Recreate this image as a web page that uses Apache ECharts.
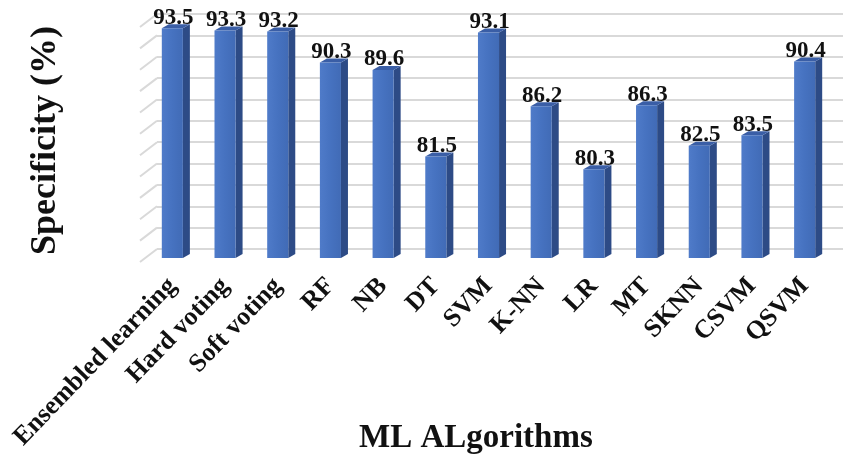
<!DOCTYPE html>
<html>
<head>
<meta charset="utf-8">
<title>Specificity of ML algorithms</title>
<script src="https://cdn.jsdelivr.net/npm/echarts@6/dist/echarts.min.js"></script>
<style>
  html, body { margin: 0; padding: 0; background: #fff; }
  #chart { width: 850px; height: 463px; }
</style>
</head>
<body>
<div id="chart"></div>
<script>
const algorithms = ['Ensembled learning', 'Hard voting', 'Soft voting', 'RF', 'NB', 'DT', 'SVM', 'K-NN', 'LR', 'MT', 'SKNN', 'CSVM', 'QSVM']
const specificity = [93.5, 93.3, 93.2, 90.3, 89.6, 81.5, 93.1, 86.2, 80.3, 86.3, 82.5, 83.5, 90.4]
const yTicks = [72, 74, 76, 78, 80, 82, 84, 86, 88, 90, 92, 94]

const Y_MIN = 72
const Y_MAX = 94
const SERIF = "'Liberation Serif', 'Times New Roman', serif"

const chart = echarts.init(document.getElementById('chart'))

// 3d column: front face, darker side face, top face, value on top
const renderBar = (params, api) => {
  const top = api.coord([api.value(0), api.value(1)])
  const base = api.coord([api.value(0), Y_MIN])
  const w = api.size([1, 0])[0] * 0.4
  const d = 7 // depth to the right
  const h = 4 // depth upwards
  const x0 = top[0] - w / 2
  const x1 = top[0] + w / 2
  return {
    type: 'group',
    children: [
      {
        type: 'polygon',
        shape: { points: [[x1, top[1]], [x1 + d, top[1] - h], [x1 + d, base[1] - h], [x1, base[1]]] },
        style: { fill: '#2d4b86' }
      },
      {
        type: 'polygon',
        shape: { points: [[x0, top[1]], [x1, top[1]], [x1 + d, top[1] - h], [x0 + d, top[1] - h]] },
        style: { fill: '#3a5ea6' }
      },
      {
        type: 'rect',
        shape: { x: x0, y: top[1], width: w, height: base[1] - top[1] },
        style: {
          fill: new echarts.graphic.LinearGradient(0, 0, 1, 0, [
            { offset: 0, color: '#4f7bc9' },
            { offset: 0.5, color: '#4672c0' },
            { offset: 1, color: '#416bb6' }
          ])
        }
      },
      {
        type: 'text',
        x: top[0] + 1,
        y: top[1] + 1,
        style: {
          text: String(api.value(1)),
          font: 'bold 23px ' + SERIF,
          fill: '#111',
          align: 'center',
          verticalAlign: 'bottom'
        }
      }
    ]
  }
}

// short slanted lines on the left side wall
const renderWallTick = (params, api) => {
  const p = api.coord([0, api.value(0)])
  return {
    type: 'line',
    shape: { x1: p[0], y1: p[1], x2: p[0] - 17, y2: p[1] + 13 },
    style: { stroke: '#d9d9d9', lineWidth: 2 }
  }
}

chart.setOption({
  animation: false,
  title: {
    text: 'ML ALgorithms',
    left: 354,
    top: 417,
    textStyle: { fontFamily: SERIF, fontWeight: 'bold', fontSize: 33, color: '#111' }
  },
  grid: [
    // front plane of the bars
    { left: 146, right: 19, top: 23, bottom: 205 },
    // back wall with the gridlines
    { left: 157, right: 7, top: 14, bottom: 214 }
  ],
  xAxis: [
    {
      gridIndex: 0,
      type: 'category',
      data: algorithms,
      axisLine: { show: false },
      axisTick: { show: false },
      axisLabel: {
        rotate: 46,
        margin: 24,
        interval: 0,
        fontFamily: SERIF,
        fontWeight: 'bold',
        fontSize: 26,
        color: '#111'
      }
    },
    { gridIndex: 1, type: 'value', min: 0, max: 1, show: false }
  ],
  yAxis: [
    {
      gridIndex: 0,
      type: 'value',
      min: Y_MIN,
      max: Y_MAX,
      interval: 2,
      name: 'Specificity (%)',
      nameLocation: 'middle',
      nameGap: 82,
      nameTextStyle: { fontFamily: SERIF, fontWeight: 'bold', fontSize: 36, color: '#111' },
      axisLine: { show: false },
      axisTick: { show: false },
      axisLabel: { show: false },
      splitLine: { show: false }
    },
    {
      gridIndex: 1,
      type: 'value',
      min: Y_MIN,
      max: Y_MAX,
      interval: 2,
      axisLine: { show: false },
      axisTick: { show: false },
      axisLabel: { show: false },
      splitLine: { lineStyle: { color: '#d9d9d9', width: 2 } }
    }
  ],
  series: [
    {
      type: 'custom',
      xAxisIndex: 1,
      yAxisIndex: 1,
      data: yTicks.map(v => [v]),
      encode: { y: 0 },
      renderItem: renderWallTick,
      silent: true
    },
    {
      type: 'custom',
      xAxisIndex: 0,
      yAxisIndex: 0,
      data: specificity.map((v, i) => [i, v]),
      encode: { x: 0, y: 1 },
      renderItem: renderBar
    }
  ]
})
</script>
</body>
</html>
